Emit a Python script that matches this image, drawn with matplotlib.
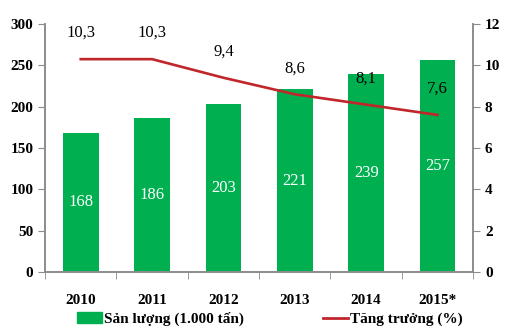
import matplotlib.pyplot as plt
from matplotlib.patches import Patch
from matplotlib.lines import Line2D

plt.rcParams["font.family"] = ["Liberation Serif", "DejaVu Serif"]

years = ["2010", "2011", "2012", "2013", "2014", "2015*"]
output = [168, 186, 203, 221, 239, 257]
growth = [10.3, 10.3, 9.4, 8.6, 8.1, 7.6]

bar_color = "#00B050"
line_color = "#C0262A"
axis_color = "#8C8C8C"

fig = plt.figure(figsize=(5.24, 3.34), dpi=100)
ax1 = fig.add_axes([0.086, 0.186, 0.817, 0.742])
ax2 = ax1.twinx()

x = range(len(years))
ax1.bar(x, output, width=0.5, color=bar_color, zorder=2)
for xi, v in zip(x, output):
    ax1.text(xi, v / 2, str(v), ha="center", va="center", color="white", fontsize=12)

ax2.plot(x, growth, color=line_color, linewidth=1.9, zorder=3)
for xi, v in zip(x, growth):
    ax2.annotate(f"{v:.1f}".replace(".", ","), (xi, v), xytext=(0, 13),
                 textcoords="offset points", ha="center", va="bottom", fontsize=12)

ax1.set_xlim(-0.5, len(years) - 0.5)
ax1.set_ylim(0, 300)
ax1.set_yticks(range(0, 301, 50))
ax2.set_ylim(0, 12)
ax2.set_yticks(range(0, 13, 2))

ax1.set_xticks(x)
ax1.set_xticklabels(years, fontweight="bold", fontsize=11)
ax1.set_xticks([i - 0.5 for i in range(len(years) + 1)], minor=True)
ax1.tick_params(axis="x", which="major", length=0, pad=16)
ax1.tick_params(axis="x", which="minor", length=5, color=axis_color, direction="out")
ax1.tick_params(axis="y", length=5, color=axis_color, labelsize=11)
ax2.tick_params(axis="y", length=5, color=axis_color, labelsize=11)
for lab in ax1.get_yticklabels() + ax2.get_yticklabels():
    lab.set_fontweight("bold")

for a in (ax1, ax2):
    a.spines["top"].set_visible(False)
    for s in ("left", "right", "bottom"):
        a.spines[s].set_color(axis_color)
        a.spines[s].set_linewidth(1.2)

handles = [
    Patch(color=bar_color, label="Sản lượng (1.000 tấn)"),
    Line2D([], [], color=line_color, linewidth=2, label="Tăng trưởng (%)"),
]
fig.legend(handles=handles, loc="center", bbox_to_anchor=(0.515, 0.045), ncol=2,
           frameon=False, columnspacing=5.2, handlelength=1.6, handletextpad=0.15,
           prop={"weight": "bold", "size": 11})

fig.savefig("out.png", dpi=100)
